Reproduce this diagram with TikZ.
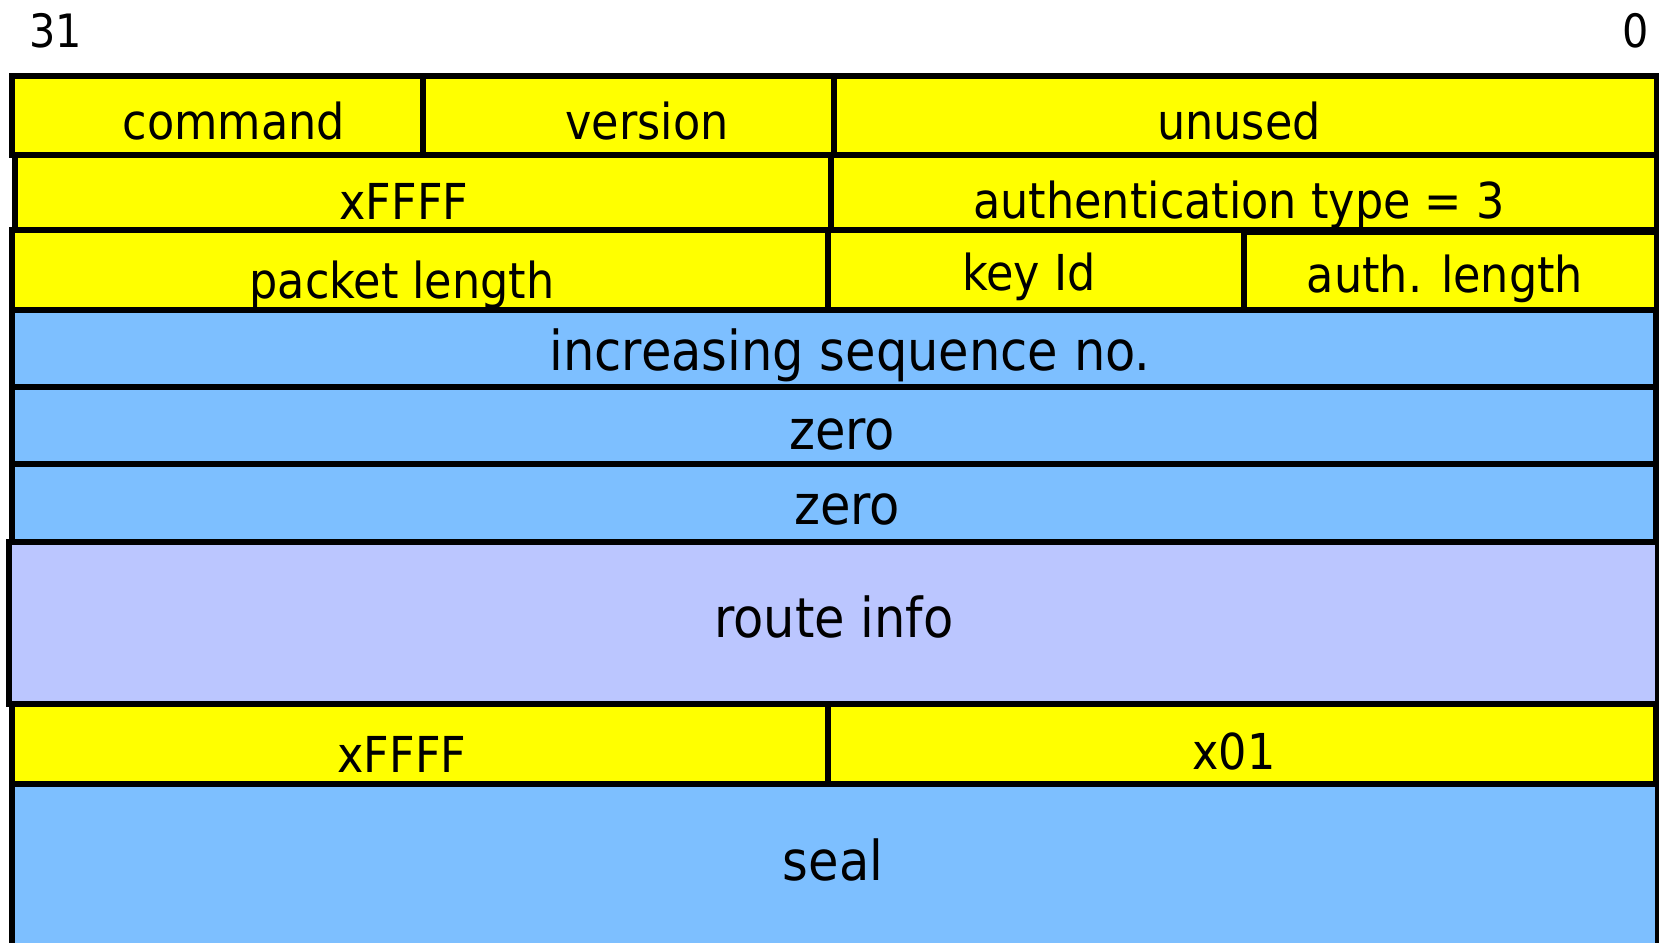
\documentclass[tikz,border=0pt]{standalone}
\usepackage{fontspec}
\setmainfont{DejaVu Sans Condensed}
\definecolor{fy}{RGB}{255,255,0}
\definecolor{fb}{RGB}{125,191,255}
\definecolor{fl}{RGB}{187,198,255}
\begin{document}
\begin{tikzpicture}[x=1pt,y=-1pt,
  box/.style={draw=black, line width=5.5pt, inner sep=0pt, outer sep=0pt, anchor=north west},
  lbl/.style={anchor=base, inner sep=0pt, font=\fontsize{49.5}{50}\selectfont},
  big/.style={anchor=base, inner sep=0pt, font=\fontsize{55}{56}\selectfont}]
\useasboundingbox (0,0) rectangle (1659,942);
\clip (0,0) rectangle (1659,942);
% bit numbers
\node[lbl, font=\fontsize{46}{46}\selectfont] (b31) at (56,48) {31};
\node[lbl, font=\fontsize{46}{46}\selectfont] (b0) at (1636,48) {0};
% row 1
\node[box, fill=fy, minimum width=411pt, minimum height=79pt] (cmd) at (12,76) {};
\node[box, fill=fy, minimum width=411pt, minimum height=79pt] (ver) at (423,76) {};
\node[box, fill=fy, minimum width=823pt, minimum height=79pt] (unu) at (834,76) {};
% row 2
\node[box, fill=fy, minimum width=816pt, minimum height=75pt] (xf1) at (15,155) {};
\node[box, fill=fy, minimum width=826pt, minimum height=75pt] (aut) at (831,155) {};
% row 3
\node[box, fill=fy, minimum width=816pt, minimum height=80pt] (pln) at (12,230) {};
\node[box, fill=fy, minimum width=416pt, minimum height=80pt] (kid) at (828,230) {};
\node[box, fill=fy, minimum width=413pt, minimum height=78pt] (aln) at (1244,232) {};
% rows 4-6
\node[box, fill=fb, minimum width=1644pt, minimum height=77pt] (seq) at (12,310) {};
\node[box, fill=fb, minimum width=1644pt, minimum height=77pt] (z1) at (12,387) {};
\node[box, fill=fb, minimum width=1644pt, minimum height=78pt] (z2) at (12,464) {};
% route info
\node[box, fill=fl, minimum width=1649pt, minimum height=162pt] (rti) at (9,542) {};
% row 8
\node[box, fill=fy, minimum width=816pt, minimum height=80pt] (xf2) at (12,704) {};
\node[box, fill=fy, minimum width=828pt, minimum height=80pt] (x01) at (828,704) {};
% seal
\node[box, fill=fb, minimum width=1646pt, minimum height=200pt] (sel) at (12,784) {};
% labels
\node[lbl] (tcmd) at (234,139) {command};
\node[lbl] (tver) at (647,139) {version};
\node[lbl] (tunu) at (1239,139) {unused};
\node[lbl] (txf1) at (404,219) {xFFFF};
\node[lbl] (taut) at (1239,218) {authentication type = 3};
\node[lbl] (tpln) at (402,298) {packet length};
\node[lbl] (tkid) at (1029,290) {key Id};
\node[lbl] (taln) at (1445,292) {auth. length};
\node[big] (tseq) at (850,370) {increasing sequence no.};
\node[big] (tz1) at (842,449) {zero};
\node[big] (tz2) at (847,524) {zero};
\node[big] (trti) at (834,637) {route info};
\node[lbl] (txf2) at (402,772) {xFFFF};
\node[lbl] (tx01) at (1234,769) {x01};
\node[big] (tsel) at (833,880) {seal};
\end{tikzpicture}
\end{document}
